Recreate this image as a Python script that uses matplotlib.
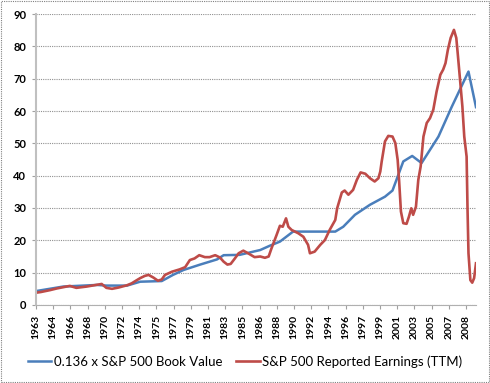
import numpy as np
import matplotlib
matplotlib.use("Agg")
import matplotlib.pyplot as plt
from matplotlib.patches import Rectangle

plt.rcParams["font.family"] = ["Lato", "DejaVu Sans"]

# category labels shown on the x axis (one every 22 months)
tick_labels = ["1963", "1964", "1966", "1968", "1970", "1972", "1974", "1975",
               "1977", "1979", "1981", "1983", "1985", "1986", "1988", "1990",
               "1992", "1994", "1996", "1997", "1999", "2001", "2003", "2005",
               "2007", "2008"]

# 0.136 x S&P 500 book value
book_x = [1963.0, 1965.9, 1969.5, 1970.5, 1972.7, 1974.1, 1976.4, 1977.6, 1978.7,
          1980.5, 1982.3, 1983.0, 1984.7, 1986.9, 1987.9, 1989.0, 1990.4, 1994.9,
          1995.75, 1997.0, 1998.6, 2000.2, 2001.0, 2002.15, 2003.1, 2004.1, 2005.9,
          2007.3, 2009.1, 2009.9]
book_y = [4.3, 5.7, 6.2, 6.0, 6.0, 7.2, 7.4, 9.3, 10.8,
          12.5, 14.1, 15.4, 15.5, 17.0, 18.3, 19.6, 22.7, 22.7,
          24.2, 27.9, 31.0, 33.5, 35.4, 44.4, 46.1, 43.9, 52.1,
          61.2, 72.2, 61.2]

# S&P 500 reported earnings (TTM)
earn_x = [1963.0, 1963.5, 1964.5, 1965.2, 1965.9, 1966.6, 1967.3, 1968.4, 1969.0,
          1969.6, 1970.0, 1970.5, 1971.1, 1971.8, 1972.7, 1973.2, 1973.7, 1974.1,
          1974.6, 1975.0, 1975.5, 1976.0, 1976.4, 1976.75, 1977.5, 1978.3, 1978.9,
          1979.4, 1979.9, 1980.4, 1981.0, 1981.5, 1982.1, 1982.6, 1983.0, 1983.4,
          1983.75, 1984.2, 1984.6, 1985.1, 1985.6, 1986.3, 1986.9, 1987.4, 1987.8,
          1988.1, 1988.65, 1989.0, 1989.3, 1989.65, 1989.9, 1990.25, 1990.95, 1991.5,
          1992.0, 1992.2, 1992.7, 1993.3, 1993.8, 1994.3, 1994.9, 1995.1, 1995.6,
          1995.9, 1996.3, 1996.8, 1997.2, 1997.6, 1998.1, 1998.6, 1999.1, 1999.5,
          1999.7, 1999.85, 2000.2, 2000.55, 2001.0, 2001.3, 2001.55, 2001.7, 2001.9,
          2002.15, 2002.5, 2002.75, 2003.0, 2003.2, 2003.5, 2003.75, 2004.0, 2004.3,
          2004.65, 2005.0, 2005.35, 2005.7, 2006.1, 2006.4, 2006.65, 2006.9, 2007.2,
          2007.55, 2007.8, 2007.95, 2008.2, 2008.45, 2008.65, 2008.9, 2009.0, 2009.1,
          2009.3, 2009.5, 2009.7, 2009.9]
earn_y = [3.8, 4.0, 4.6, 5.1, 5.5, 5.9, 5.3, 5.7, 6.0,
          6.3, 6.5, 5.3, 5.0, 5.4, 6.1, 6.7, 7.6, 8.3,
          9.0, 9.3, 8.5, 7.5, 7.9, 9.3, 10.3, 11.0, 11.7,
          13.9, 14.4, 15.4, 14.8, 14.8, 15.4, 14.7, 13.4, 12.5,
          12.7, 14.4, 16.0, 16.8, 16.0, 14.8, 15.0, 14.6, 15.0,
          17.5, 21.7, 24.5, 24.2, 26.8, 24.2, 23.2, 22.2, 21.1,
          18.6, 16.0, 16.5, 18.6, 20.1, 23.2, 26.3, 29.9, 34.8,
          35.4, 34.1, 35.6, 38.7, 41.0, 40.6, 39.2, 38.2, 39.2,
          41.3, 44.4, 50.6, 52.3, 52.1, 50.1, 44.9, 38.7, 28.9,
          25.3, 25.1, 27.3, 29.9, 27.9, 30.4, 38.7, 42.8, 52.1,
          56.3, 57.8, 60.4, 66.0, 71.2, 72.8, 74.8, 78.9, 82.6,
          85.1, 82.6, 77.9, 69.7, 61.4, 52.1, 45.9, 29.4, 16.0,
          7.7, 6.9, 8.3, 12.9]

fig = plt.figure(figsize=(4.9, 3.83), dpi=100)
ax = fig.add_axes([0.0735, 0.2037, 0.8979, 0.7597])

ax.plot(book_x, book_y, color="#4A7EBB", lw=1.8, label="0.136 x S&P 500 Book Value")
ax.plot(earn_x, earn_y, color="#BE4B48", lw=1.9, label="S&P 500 Reported Earnings (TTM)")

ax.set_xlim(1963.0, 2009.9)
ax.set_ylim(0, 90)
ax.set_yticks(np.arange(0, 91, 10))
ax.set_xticks(1963.0 + np.arange(len(tick_labels)) * 22 / 12)
ax.set_xticklabels(tick_labels, rotation=90, fontsize=7.5, fontweight="bold")
ax.tick_params(axis="y", labelsize=8, length=3, color="#A0A0A0", pad=4)
ax.tick_params(axis="x", length=3, color="#A0A0A0", pad=4)
for lab in ax.get_yticklabels():
    lab.set_fontweight("bold")

ax.yaxis.grid(True, color="#909090", ls=(0, (1, 1)), lw=0.8)
ax.set_axisbelow(True)
for sp in ("top", "right"):
    ax.spines[sp].set_visible(False)
ax.spines["left"].set_color("#C0C0C0")
ax.spines["left"].set_linewidth(1.5)
ax.spines["bottom"].set_color("#B0B0B0")
ax.spines["bottom"].set_linestyle((0, (1, 1)))

fig.legend(loc="center", bbox_to_anchor=(0.5, 0.056), ncol=2, frameon=False,
           fontsize=9.5, handlelength=1.8, handletextpad=0.2, columnspacing=1.0)

fig.patches.append(Rectangle((0.002, 0.003), 0.996, 0.994, transform=fig.transFigure,
                             fill=False, ec="#808080", lw=0.8, ls=(0, (1, 1))))

fig.savefig("out.png", dpi=100)
